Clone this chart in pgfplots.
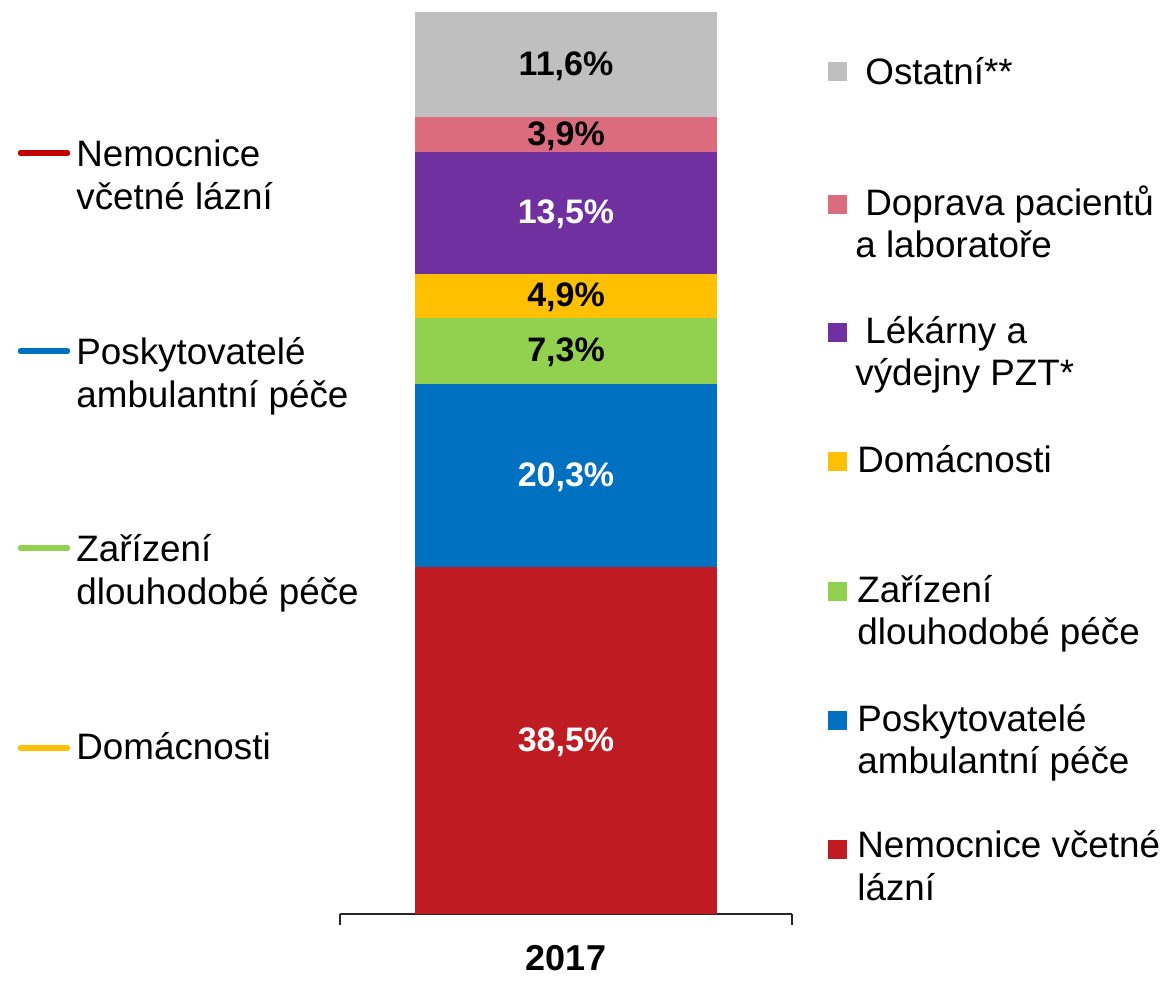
\documentclass[border=0pt]{standalone}
\usepackage{pgfplots}
\pgfplotsset{compat=1.18}
\usepackage{fontspec}
\setmainfont{Liberation Sans}
\definecolor{cRed}{RGB}{190,27,34}
\definecolor{cRedL}{RGB}{192,0,0}
\definecolor{cBlue}{RGB}{0,112,192}
\definecolor{cGreen}{RGB}{146,208,80}
\definecolor{cYellow}{RGB}{255,192,0}
\definecolor{cPurple}{RGB}{112,48,160}
\definecolor{cPink}{RGB}{218,108,125}
\definecolor{cGray}{RGB}{191,191,191}
\newcommand\lgf{\fontsize{18.4}{21.5}\selectfont}
\newcommand\lbf{\fontsize{17}{20}\selectfont\bfseries}
\pgfplotsset{
  seg/.style n args={2}{fill=#1, draw=none,
    nodes near coords={#2},
    every node near coord/.style={anchor=center, yshift=-2pt, font=\lbf, text height=0.72em, text depth=0pt, inner sep=0pt}},
}
\begin{document}
\begin{tikzpicture}
\begin{axis}[
  at={(170pt,-457pt)}, anchor=south west,
  scale only axis, width=226pt, height=451pt,
  xmin=-0.5, xmax=0.5, ymin=0, ymax=100,
  ybar stacked, bar width=151pt,
  hide y axis,
  axis x line*=bottom,
  x axis line style={-, black!85, line width=1pt},
  xtick={-0.5,0.5}, xticklabels={},
  tick align=outside, major tick length=5.5pt,
  xtick style={black!85, line width=1pt},
  extra x ticks={0}, extra x tick labels={\textbf{2017}},
  extra x tick style={major tick length=0pt},
  xticklabel style={font=\fontsize{18}{20}\selectfont, anchor=base, yshift=-28pt, inner sep=0pt},
  clip=false,
]
\addplot[seg={cRed}{\color{white}38,5\%}] coordinates {(0,38.5)};
\addplot[seg={cBlue}{\color{white}20,3\%}] coordinates {(0,20.3)};
\addplot[seg={cGreen}{7,3\%}] coordinates {(0,7.3)};
\addplot[seg={cYellow}{4,9\%}] coordinates {(0,4.9)};
\addplot[seg={cPurple}{\color{white}13,5\%}] coordinates {(0,13.5)};
\addplot[seg={cPink}{3,9\%}] coordinates {(0,3.9)};
\addplot[seg={cGray}{11,6\%}] coordinates {(0,11.6)};
\end{axis}
\begin{scope}[x=0.5pt, y=-0.5pt, every node/.style={inner sep=0pt, anchor=base west, font=\lgf}]
\useasboundingbox (0,0) rectangle (1165,973);
% left legend
\draw[cRedL, line width=2.75pt, line cap=round] (20.5,153) -- (67.5,153);
\node at (76,166) {Nemocnice};
\node at (76,209) {včetné lázní};
\draw[cBlue, line width=2.75pt, line cap=round] (20.5,351) -- (67.5,351);
\node at (76,364) {Poskytovatelé};
\node at (76,407) {ambulantní péče};
\draw[cGreen, line width=2.75pt, line cap=round] (20.5,548) -- (67.5,548);
\node at (76,561) {Zařízení};
\node at (76,604) {dlouhodobé péče};
\draw[cYellow, line width=2.75pt, line cap=round] (20.5,748) -- (67.5,748);
\node at (76,759) {Domácnosti};
% right legend
\fill[cGray] (827.5,62) rectangle (846.5,81);
\node at (865,84) {Ostatní**};
\fill[cPink] (827.5,194.5) rectangle (846.5,213.5);
\node at (865,215) {Doprava pacientů};
\node at (855,257) {a laboratoře};
\fill[cPurple] (827.5,322.5) rectangle (846.5,341.5);
\node at (865,343) {Lékárny a};
\node at (855,385) {výdejny PZT*};
\fill[cYellow] (827.5,452) rectangle (846.5,471);
\node at (857,472) {Domácnosti};
\fill[cGreen] (827.5,581.5) rectangle (846.5,600.5);
\node at (857,602) {Zařízení};
\node at (857,644) {dlouhodobé péče};
\fill[cBlue] (827.5,710.5) rectangle (846.5,729.5);
\node at (857,731) {Poskytovatelé};
\node at (857,773) {ambulantní péče};
\fill[cRed] (827.5,840) rectangle (846.5,859);
\node at (857,857) {Nemocnice včetné};
\node at (857,900) {lázní};
\end{scope}
\end{tikzpicture}
\end{document}
